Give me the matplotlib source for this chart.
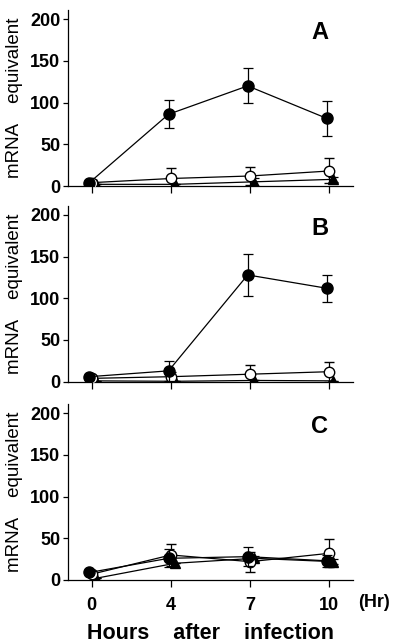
import matplotlib
matplotlib.use("Agg")
import matplotlib.pyplot as plt
import numpy as np

plt.rcParams['font.family'] = ['Liberation Sans', 'DejaVu Sans']

hours = ["0", "4", "7", "10"]
panels = ["A", "B", "C"]

# Panel A
a_filled = [4, 86, 120, 81]
a_filled_err = [0, 17, 21, 21]
a_open = [4, 9, 12, 18]
a_open_err = [0, 13, 11, 15]
a_tri = [2, 2, 5, 8]
a_tri_err = [0, 0, 5, 3]

# Panel B
b_filled = [6, 13, 128, 112]
b_filled_err = [0, 12, 25, 16]
b_open = [4, 6, 9, 12]
b_open_err = [0, 6, 11, 12]
b_tri = [1, 0.5, 1.5, 1]
b_tri_err = [0, 0, 0, 0]

# Panel C
c_filled = [9, 26, 28, 23]
c_filled_err = [0, 11, 11, 7]
c_open = [7, 30, 22, 32]
c_open_err = [0, 13, 12, 17]
c_tri = [2, 20, 26, 22]
c_tri_err = [0, 0, 3, 3]

data = [
    (a_filled, a_filled_err, a_open, a_open_err, a_tri, a_tri_err),
    (b_filled, b_filled_err, b_open, b_open_err, b_tri, b_tri_err),
    (c_filled, c_filled_err, c_open, c_open_err, c_tri, c_tri_err),
]

fig = plt.figure(figsize=(4.0, 6.44), dpi=100)
W, H = 400.0, 644.0
left_px, right_px = 68, 353
zero_px = [186, 381.7, 580]
height_px = 176

x = np.arange(len(hours))
ek = dict(capsize=3.5, elinewidth=0.9, capthick=0.9, ecolor='black')

for i, (panel, d) in enumerate(zip(panels, data)):
    bottom = 1 - zero_px[i] / H
    ax = fig.add_axes([left_px / W, bottom, (right_px - left_px) / W, height_px / H])
    f, fe, o, oe, t, te = d
    ax.errorbar(x + 0.05, t, yerr=te, fmt='-^', color='black', ms=7,
                lw=0.9, mfc='black', mec='black', zorder=3, **ek)
    ax.errorbar(x, o, yerr=oe, fmt='-o', color='black', ms=7.5,
                lw=0.9, mfc='white', mec='black', mew=1.0, zorder=4, **ek)
    ax.errorbar(x - 0.03, f, yerr=fe, fmt='-o', color='black', ms=8,
                lw=0.9, mfc='black', mec='black', zorder=5, **ek)
    ax.set_xlim(-0.30, 3.30)
    ax.set_ylim(0, 211)
    ax.set_yticks([0, 50, 100, 150, 200])
    ax.set_xticks(x)
    for s in ['top', 'right']:
        ax.spines[s].set_visible(False)
    for s in ['left', 'bottom']:
        ax.spines[s].set_linewidth(0.9)
    ax.tick_params(axis='y', direction='out', length=3.5, width=0.9,
                   labelsize=13, pad=2)
    ax.tick_params(axis='x', direction='out', length=5, width=0.9,
                   labelsize=13, pad=7)
    for lab in ax.get_yticklabels():
        lab.set_fontweight('bold')
    if i < 2:
        ax.set_xticklabels([])
    else:
        ax.set_xticklabels(hours, fontweight='bold')
        ax.text(3.56, -27, "(Hr)", fontsize=13, fontweight='bold',
                ha='center', va='center', transform=ax.transData, clip_on=False)
        ax.set_xlabel("Hours    after    infection", fontsize=15.5,
                      fontweight='bold', labelpad=7)
    ax.set_ylabel("mRNA    equivalent", fontsize=13.5, labelpad=5)
    ax.text(2.88, 184, panel, fontsize=17, fontweight='bold',
            ha='center', va='center')

fig.savefig("out.png", dpi=100)
